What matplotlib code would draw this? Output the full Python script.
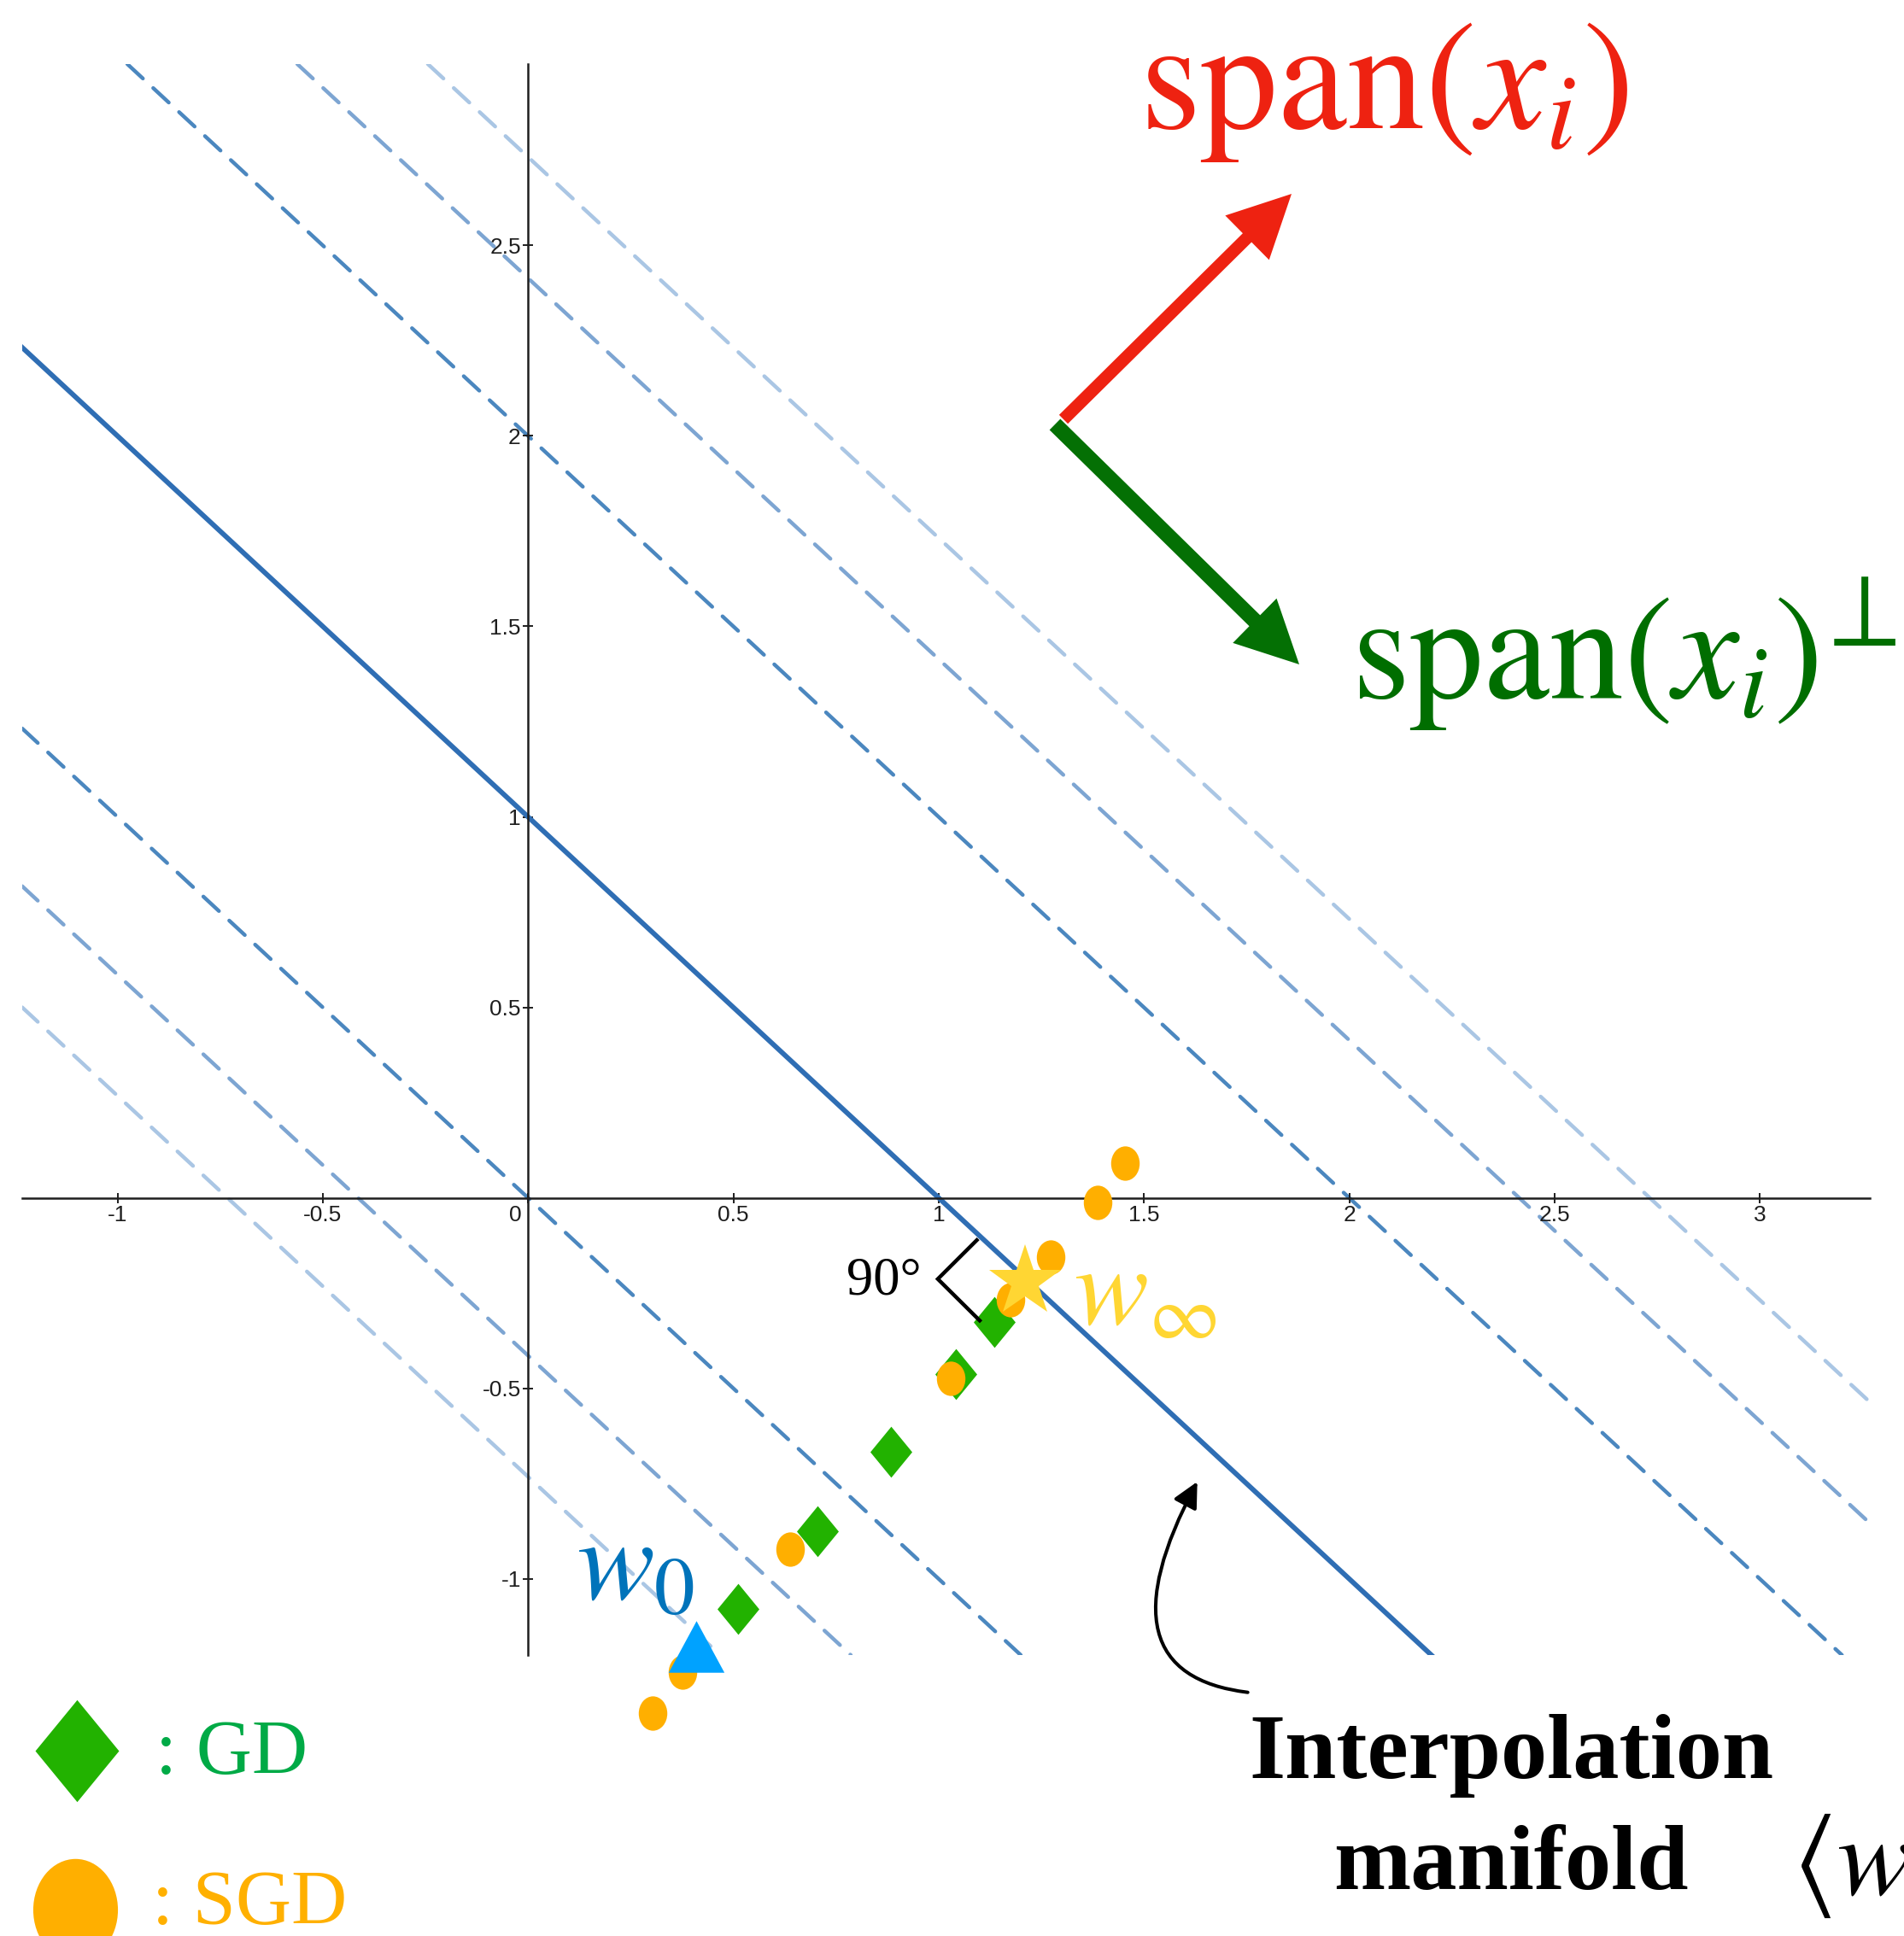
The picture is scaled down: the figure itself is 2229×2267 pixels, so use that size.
import matplotlib.pyplot as plt
import numpy as np
from matplotlib.path import Path
from matplotlib.patches import FancyArrowPatch, ArrowStyle
from matplotlib.lines import Line2D
from matplotlib.transforms import ScaledTranslation

plt.rcParams['mathtext.fontset'] = 'stix'
plt.rcParams['font.family'] = ['Liberation Serif', 'DejaVu Serif']

W, H = 2229, 2267  # output size in pixels (dpi 100)

# interpolation manifold  w1 + w2 = 1  and loss level sets around it
manifold_c = 1.0
level_c = [[0.0, 2.0], [-0.414, 2.414], [-0.732, 2.732]]
level_colors = ['#4b87bf', '#7da5d2', '#aac6e4']

# iterates
w0 = (0.409, -1.177)
w_inf = (1.210, -0.220)
gd_x = [0.511, 0.704, 0.883, 1.041, 1.135]
gd_y = [-1.080, -0.874, -0.666, -0.462, -0.325]
sgd_x = [0.303, 0.376, 0.638, 1.029, 1.175, 1.272, 1.387, 1.453]
sgd_y = [-1.352, -1.244, -0.921, -0.473, -0.267, -0.155, -0.011, 0.092]

# right angle mark between the GD path and the manifold
ra_x = [1.093, 0.998, 1.100]
ra_y = [-0.111, -0.213, -0.322]

xticks = [-1, -0.5, 0, 0.5, 1, 1.5, 2, 2.5, 3]
xticklabels = ['-1', '-0.5', '0', '0.5', '1', '1.5', '2', '2.5', '3']
yticks = [-1, -0.5, 0.5, 1, 1.5, 2, 2.5]
yticklabels = ['-1', '-0.5', '0.5', '1', '1.5', '2', '2.5']


def px(x, y):
    # pixel position (origin top-left) -> figure fraction
    return x / W, 1 - y / H


# marker shapes
diamond = Path([(0, 1), (0.82, 0), (0, -1), (-0.82, 0), (0, 1)],
               [Path.MOVETO, Path.LINETO, Path.LINETO, Path.LINETO, Path.CLOSEPOLY])
circ = Path.unit_circle()
oval = Path(circ.vertices * [0.83, 1.0], circ.codes)
tri = Path([(0, 1), (1.08, -1), (-1.08, -1), (0, 1)],
           [Path.MOVETO, Path.LINETO, Path.LINETO, Path.CLOSEPOLY])

fig = plt.figure(figsize=(W / 100, H / 100), dpi=100)
ax = fig.add_axes([0.01166, 0.14513, 0.9704, 0.82179])
ax.set_xlim(-1.232, 3.268)
ax.set_ylim(-1.2, 2.976)

# level sets
for cs, col in zip(level_c, level_colors):
    for c in cs:
        ax.axline((0, c), slope=-1, color=col, lw=3.2, ls=(0, (5.6, 3.7)),
                  dash_capstyle='round', zorder=1.5)
ax.axline((0, manifold_c), slope=-1, color='#2f6eb4', lw=4.2, zorder=1.8)

# axes through the origin
ax.spines['left'].set_position(('data', 0))
ax.spines['bottom'].set_position(('data', 0))
ax.spines['top'].set_visible(False)
ax.spines['right'].set_visible(False)
for s in ['left', 'bottom']:
    ax.spines[s].set_linewidth(1.8)
    ax.spines[s].set_color('#1e1e1e')
ax.set_xticks(xticks, xticklabels, fontfamily='Liberation Sans')
ax.set_yticks(yticks, yticklabels, fontfamily='Liberation Sans')
ax.tick_params(direction='inout', length=8, width=1.4, labelsize=19, pad=2,
               colors='#1e1e1e')
zero = ax.xaxis.get_major_ticks()[2].label1
zero.set_transform(zero.get_transform() + ScaledTranslation(-0.15, 0, fig.dpi_scale_trans))

# trajectories
ax.plot(gd_x, gd_y, ls='none', marker=diamond, ms=43, color='#22b200', mew=0,
        clip_on=False, zorder=3)
ax.plot(sgd_x, sgd_y, ls='none', marker=oval, ms=29, color='#ffaf00', mew=0,
        clip_on=False, zorder=4)
ax.plot(*w0, ls='none', marker=tri, ms=47, color='#00a2ff', mew=0,
        clip_on=False, zorder=5)
ax.plot(*w_inf, ls='none', marker='*', ms=63, color='#ffd633', mew=0,
        clip_on=False, zorder=6)
ax.plot(ra_x, ra_y, color='black', lw=3.2, solid_joinstyle='miter', zorder=3)

ax.text(0.118, -1.053, r'$w_0$', color='#0073ba', fontsize=98, va='baseline')
ax.text(1.330, -0.331, r'$w_\infty$', color='#ffd633', fontsize=94, va='baseline')
ax.text(0.958, -0.253, '90°', ha='right', va='baseline', fontsize=45)

# span directions
red_arrow = FancyArrowPatch(px(1245, 491), px(1512, 227), transform=fig.transFigure,
                            arrowstyle=ArrowStyle('simple', head_length=52.6,
                                                  head_width=52.6, tail_width=10.5),
                            mutation_scale=1, shrinkA=0, shrinkB=0, lw=0,
                            color='#ee2211')
green_arrow = FancyArrowPatch(px(1235, 497), px(1521, 778), transform=fig.transFigure,
                              arrowstyle=ArrowStyle('simple', head_length=52.6,
                                                    head_width=52.6, tail_width=13),
                              mutation_scale=1, shrinkA=0, shrinkB=0, lw=0,
                              color='#047004')
fig.add_artist(red_arrow)
fig.add_artist(green_arrow)
fig.text(*px(1334, 150), r'$\mathrm{span}(x_i)$', fontsize=131, color='#ee2211',
         va='baseline')
fig.text(*px(1582, 818), r'$\mathrm{span}(x_i)^{\!\perp}$', fontsize=125,
         color='#006e00', va='baseline')

# pointer to the manifold
curve = Path([px(1460.7, 1981.7), px(1282, 1960), px(1401.7, 1735)],
             [Path.MOVETO, Path.CURVE3, Path.CURVE3])
pointer = FancyArrowPatch(path=curve, transform=fig.transFigure,
                          arrowstyle='-|>,head_length=18,head_width=9',
                          mutation_scale=1, lw=2.9, color='black')
fig.add_artist(pointer)
fig.text(*px(1769, 2082), 'Interpolation', ha='center', va='baseline',
         fontsize=78, fontweight='bold')
fig.text(*px(1769, 2212), 'manifold', ha='center', va='baseline',
         fontsize=78, fontweight='bold')
fig.text(*px(2098, 2218), r'$\langle w, x_i\rangle = y_i$', fontsize=95,
         va='baseline')

# key
fig.add_artist(Line2D([px(90, 2050)[0]], [px(90, 2050)[1]], marker=diamond, ms=86,
                      color='#22b200', mew=0, ls='none', transform=fig.transFigure))
fig.add_artist(Line2D([px(88, 2236)[0]], [px(88, 2236)[1]], marker=oval, ms=86,
                      color='#ffaf00', mew=0, ls='none', transform=fig.transFigure))
fig.text(*px(182, 2077), ': GD', fontsize=65, color='#00aa46', va='baseline')
fig.text(*px(178, 2253), ': SGD', fontsize=65, color='#ffb000', va='baseline')

fig.savefig('out.png', dpi=100)
